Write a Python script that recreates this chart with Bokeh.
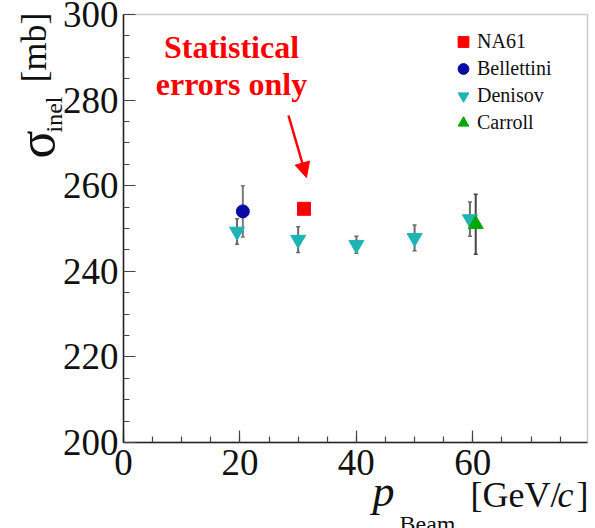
import math

from bokeh.embed import file_html
from bokeh.models import (Arrow, BoxAnnotation, ColumnDataSource, FixedTicker,
                          Label, Legend, LegendItem, NormalHead, Range1d,
                          TeeHead, Whisker)
from bokeh.plotting import figure
from bokeh.resources import INLINE

# Inelastic cross section of p+C versus beam momentum
na61_p = [31.0]
na61_sigma = [254.6]

bellettini_p = [20.5]
bellettini_sigma = [254.0]
bellettini_err = [6.0]

denisov_p = [19.5, 30.0, 40.0, 50.0, 59.5]
denisov_sigma = [249.3, 247.4, 246.2, 247.8, 252.2]
denisov_err = [3.0, 3.0, 2.0, 3.0, 4.0]

carroll_p = [60.5]
carroll_sigma = [251.0]
carroll_err = [7.0]

x_ticks = [0, 20, 40, 60]
y_ticks = [200, 220, 240, 260, 280, 300]

X_MAX = 79.7
Y_MIN, Y_MAX = 200, 300

# page size and the pixel box that holds the data area
W, H = 595, 528
LEFT, RIGHT, TOP, BOTTOM = 123, 587, 14, 442
PX_X = (RIGHT - LEFT) / X_MAX
PX_Y = (BOTTOM - TOP) / (Y_MAX - Y_MIN)

SERIF = "Liberation Serif"
# Label anchors sit this fraction of the font size above the baseline
BASELINE_SHIFT = 0.36


def at(px, py):
    """Canvas pixel position -> data coordinates for annotations."""
    return (px - LEFT) / PX_X, Y_MIN + (BOTTOM - py) / PX_Y


# the plotting frame covers the whole page; axes sit at fixed locations
p = figure(width=W, height=H,
           x_range=Range1d(-LEFT / PX_X, X_MAX + (W - RIGHT) / PX_X),
           y_range=Range1d(Y_MIN - (H - BOTTOM) / PX_Y, Y_MAX + TOP / PX_Y),
           output_backend="svg", toolbar_location=None,
           min_border_left=0, min_border_right=0,
           min_border_top=0, min_border_bottom=0)

p.background_fill_color = "white"
p.border_fill_color = "white"
p.outline_line_color = None
p.grid.visible = False

# box around the data area
p.add_layout(BoxAnnotation(left=0, right=X_MAX, bottom=Y_MIN, top=Y_MAX,
                           fill_alpha=0, line_color="#5a5a5a",
                           line_width=1.5, level="underlay"))

p.xaxis.ticker = FixedTicker(ticks=x_ticks, minor_ticks=list(range(0, 80, 5)))
p.yaxis.ticker = FixedTicker(ticks=y_ticks,
                             minor_ticks=list(range(Y_MIN, Y_MAX + 1, 5)))
p.xaxis.fixed_location = Y_MIN
p.yaxis.fixed_location = 0
p.xaxis.bounds = (0, X_MAX)
p.yaxis.bounds = (Y_MIN, Y_MAX)
for ax in (p.xaxis[0], p.yaxis[0]):
    ax.axis_line_color = "#222222"
    ax.axis_line_width = 1.5
    ax.major_tick_in = 12
    ax.major_tick_out = 0
    ax.minor_tick_in = 6
    ax.minor_tick_out = 0
    ax.major_tick_line_color = "#444444"
    ax.minor_tick_line_color = "#444444"
    ax.major_tick_line_width = 1.2
    ax.minor_tick_line_width = 1.2
    ax.major_label_text_font = SERIF
    ax.major_label_text_font_size = "37px"
    ax.major_label_text_color = "#111111"
p.xaxis.major_label_standoff = 7
p.yaxis.major_label_standoff = 5


def error_bars(xs, ys, errs, color):
    src = ColumnDataSource(dict(x=xs, lo=[y - e for y, e in zip(ys, errs)],
                                hi=[y + e for y, e in zip(ys, errs)]))
    w = Whisker(source=src, base="x", lower="lo", upper="hi",
                line_color=color, line_width=2,
                upper_head=TeeHead(size=4, line_color=color, line_width=1.5),
                lower_head=TeeHead(size=4, line_color=color, line_width=1.5))
    p.add_layout(w)


error_bars(bellettini_p, bellettini_sigma, bellettini_err, "#7a7a7a")
error_bars(denisov_p, denisov_sigma, denisov_err, "#6a6a6a")
error_bars(carroll_p, carroll_sigma, carroll_err, "#444444")

r_na61 = p.scatter(na61_p, na61_sigma, marker="square", size=13,
                   fill_color="#ff0000", line_color="#ff0000")
r_bell = p.scatter(bellettini_p, bellettini_sigma, marker="circle", size=13,
                   fill_color="#0a0aa5", line_color="#0a0aa5")
r_den = p.scatter(denisov_p, denisov_sigma, marker="inverted_triangle",
                  size=15, fill_color="#1fb4b4", line_color="#1fb4b4")
r_car = p.scatter(carroll_p, carroll_sigma, marker="triangle", size=15,
                  fill_color="#00a800", line_color="#00a800")

legend = Legend(items=[LegendItem(label="NA61", renderers=[r_na61]),
                       LegendItem(label="Bellettini", renderers=[r_bell]),
                       LegendItem(label="Denisov", renderers=[r_den]),
                       LegendItem(label="Carroll", renderers=[r_car])],
                location=(449, 392), orientation="vertical",
                label_text_font=SERIF, label_text_font_size="20px",
                label_text_color="#111111",
                glyph_width=28, glyph_height=27, label_height=27,
                label_standoff=0, spacing=0, padding=0, margin=0,
                border_line_color=None, background_fill_alpha=0)
p.add_layout(legend)


def text_at(text, px, py, size, align="left", style="normal", angle=0.0,
            color="#111111"):
    """Place a text with its baseline starting at canvas pixel (px, py)."""
    shift = BASELINE_SHIFT * size
    if angle:
        px -= shift
    else:
        py -= shift
    x, y = at(px, py)
    p.add_layout(Label(x=x, y=y, text=text, angle=angle, text_align=align,
                       text_baseline="alphabetic", text_font=SERIF,
                       text_font_style=style, text_font_size=f"{size}px",
                       text_color=color))


# annotation for the NA61 point
text_at("Statistical", 231, 58.5, 32, "center", "bold", color="#ff0000")
text_at("errors only", 231, 95, 32, "center", "bold", color="#ff0000")

xs, ys = at(288, 115)
xe, ye = at(306, 177)
p.add_layout(Arrow(x_start=xs, y_start=ys, x_end=xe, y_end=ye,
                   line_color="#ff0000", line_width=2.5,
                   end=NormalHead(size=15, fill_color="#ff0000",
                                  line_color="#ff0000")))

# sigma_inel [mb], rotated
text_at("σ", 55, 158, 52, angle=math.pi / 2)
text_at("inel", 62, 132, 24, angle=math.pi / 2)
text_at("[mb]", 46, 82, 36, angle=math.pi / 2)

# p_Beam [GeV/c]
text_at("p", 372, 507, 44, style="italic")
text_at("Beam", 399, 532, 24)
text_at("[GeV/", 470, 507, 36)
text_at("c", 557, 507, 36, style="italic")
text_at("]", 576, 507, 36)

open("out.html", "w").write(file_html(p, INLINE))
